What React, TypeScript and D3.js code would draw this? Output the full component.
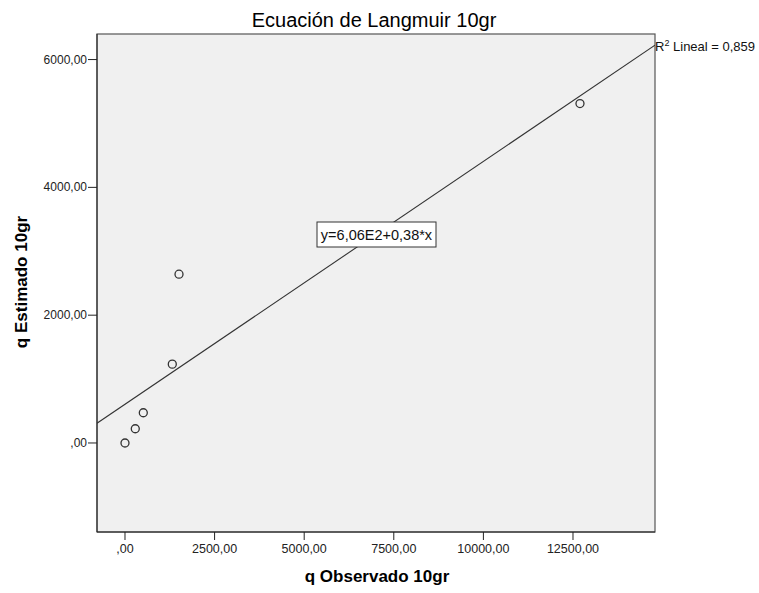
import React from 'react';
import * as d3 from 'd3';

// lectura aproximada de los puntos
const observado = [0, 287, 511, 1320, 1507, 12695];
const estimado = [0, 223, 473, 1234, 2641, 5312];
const xTicks = [0, 2500, 5000, 7500, 10000, 12500];
const yTicks = [0, 2000, 4000, 6000];
const intercept = 606;
const slope = 0.38;
const r2 = '0,859';

const W = 759, H = 593;
const left = 97, right = 655, top = 34, bottom = 532;

const fmt = (v: number) => (v === 0 ? ',00' : v.toFixed(2).replace('.', ','));

export default function App() {
  const x = d3.scaleLinear().domain([-781, 14788]).range([left, right]);
  const y = d3.scaleLinear().domain([-1393, 6400]).range([bottom, top]);
  const pts = observado.map((o, i) => ({ o, e: estimado[i] }));
  const [x0, x1] = x.domain();
  const fit = d3.line<number>().x(d => x(d)).y(d => y(intercept + slope * d));
  const font = 'Liberation Sans, Arial, sans-serif';

  return (
    <svg width={W} height={H} style={{ position: 'absolute', left: 0, top: 0 }} fontFamily={font}>
      <rect width={W} height={H} fill="#fff" />
      <text x={374} y={27} textAnchor="middle" fontSize={20} fill="#000">Ecuación de Langmuir 10gr</text>
      <rect x={left} y={top} width={right - left} height={bottom - top} fill="#f0f0f0" stroke="#555" strokeWidth={1.2} />
      <line x1={left} x2={left} y1={top} y2={bottom} stroke="#222" />
      <line x1={left} x2={right} y1={bottom} y2={bottom} stroke="#222" />
      <clipPath id="clip"><rect x={left} y={top} width={right - left} height={bottom - top} /></clipPath>
      <path d={fit([x0, x1]) || ''} stroke="#333" strokeWidth={1.1} fill="none" clipPath="url(#clip)" />
      {pts.map((p, i) => (
        <circle key={i} cx={x(p.o)} cy={y(p.e)} r={4} fill="none" stroke="#333" strokeWidth={1.3} />
      ))}
      {yTicks.map(t => (
        <g key={t}>
          <line x1={left - 9} x2={left} y1={y(t)} y2={y(t)} stroke="#222" />
          <text x={left - 10} y={y(t) + 4} textAnchor="end" fontSize={12} fill="#222">{fmt(t)}</text>
        </g>
      ))}
      {xTicks.map(t => (
        <g key={t}>
          <line x1={x(t)} x2={x(t)} y1={bottom} y2={bottom + 8} stroke="#222" />
          <text x={x(t)} y={553} textAnchor="middle" fontSize={12.5} fill="#222">{fmt(t)}</text>
        </g>
      ))}
      <text x={377} y={582} textAnchor="middle" fontSize={17} fontWeight="bold">q Observado 10gr</text>
      <text transform="translate(27,282) rotate(-90)" textAnchor="middle" fontSize={17} fontWeight="bold">q Estimado 10gr</text>
      <rect x={317} y={222} width={119} height={25} fill="#fff" stroke="#333" strokeWidth={1} />
      <text x={376.5} y={240} textAnchor="middle" fontSize={14.5} fill="#111">y=6,06E2+0,38*x</text>
      <text x={655} y={51} fontSize={13} fill="#111">R<tspan fontSize={9} dy={-5}>2</tspan><tspan dy={5}> Lineal = {r2}</tspan></text>
    </svg>
  );
}
